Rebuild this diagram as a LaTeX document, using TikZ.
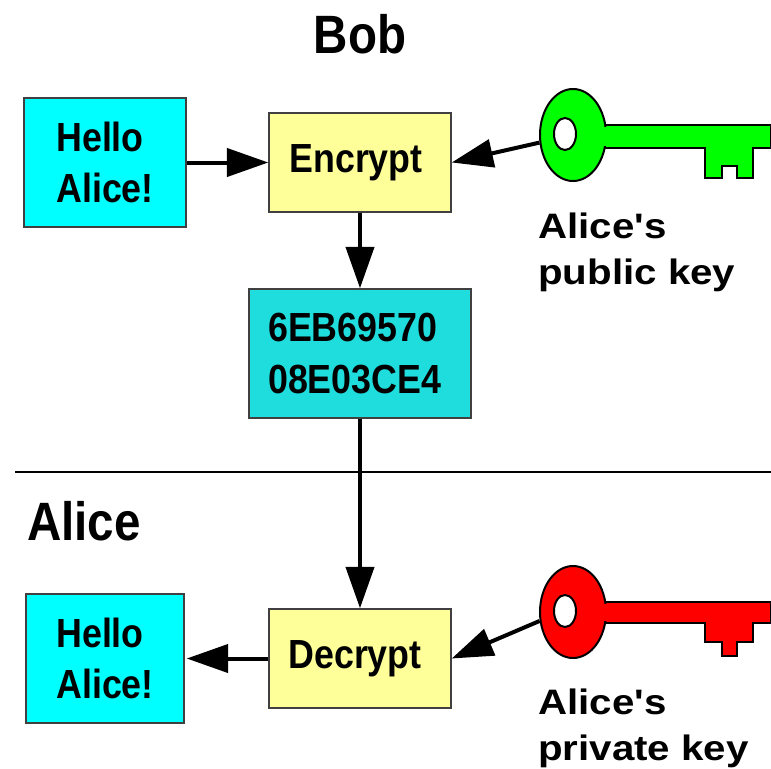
\documentclass[tikz,border=0pt]{standalone}
\usepackage{fontspec}
\setmainfont{Liberation Sans}
\newfontfamily\narrowfont[FakeStretch=0.88]{Liberation Sans}
\newfontfamily\wideletters[FakeStretch=1.14]{Liberation Sans}
\usetikzlibrary{arrows.meta}
\usetikzlibrary{shapes.geometric}

\definecolor{msgcyan}{HTML}{00FFFF}
\definecolor{boxyellow}{HTML}{FFFF99}
\definecolor{ciphercyan}{HTML}{20DDDD}

\tikzset{
  boxnode/.style={draw=black!75,line width=1.1pt,rectangle,inner sep=0pt,
    align=left,text=black,font=\narrowfont\bfseries\fontsize{30.5}{38.5}\selectfont},
  heading/.style={inner sep=0pt,font=\narrowfont\bfseries\fontsize{40.5}{46}\selectfont},
  keylabel/.style={inner sep=0pt,align=left,anchor=north west,
    font=\wideletters\bfseries\fontsize{26.5}{34.5}\selectfont},
  keybow/.style={draw=black,line width=1.5pt,ellipse,minimum width=66*0.75pt,
    minimum height=92*0.75pt,inner sep=0pt},
  keyhole/.style={keybow,fill=white,minimum width=22*0.75pt,minimum height=32*0.75pt},
  keyline/.style={draw=black,line width=1.5pt,line join=miter},
  link/.style={line width=3pt,-{Triangle[length=31pt,width=21pt]}}
}

\begin{document}
\begin{tikzpicture}[x=0.75pt,y=-0.75pt]
\useasboundingbox (0,0) rectangle (771,768);

% boxes
\node[boxnode,fill=msgcyan,minimum width=162*0.75pt,minimum height=129*0.75pt] (hellotop) at (105,162.5) {Hello\\Alice!};
\node[boxnode,fill=boxyellow,minimum width=182*0.75pt,minimum height=99*0.75pt] (encrypt) at (360,162.5) {Encrypt\kern 6pt};
\node[boxnode,fill=ciphercyan,minimum width=222*0.75pt,minimum height=129*0.75pt] (cipher) at (360,353.5) {6EB69570\\08E03CE4\kern 8pt};
\node[boxnode,fill=boxyellow,minimum width=182*0.75pt,minimum height=99*0.75pt] (decrypt) at (360,658.5) {Decrypt\kern 7.5pt};
\node[boxnode,fill=msgcyan,minimum width=158*0.75pt,minimum height=129*0.75pt] (hellobot) at (105,658.5) {Hello\\Alice!};

% green key
\fill[keyline,fill=green] (600,125) -- (771,125) -- (771,148) -- (753,148) -- (753,178) -- (737,178)
  -- (737,166) -- (722,166) -- (722,178) -- (705,178) -- (705,148) -- (600,148) -- cycle;
\node[keybow,fill=green] (pubkey) at (573,135) {};
\fill[green] (590,127) rectangle (612,146);
\node[keyhole] (pubhole) at (565,134) {};

% red key
\fill[keyline,fill=red] (600,602) -- (771,602) -- (771,623) -- (753,623) -- (753,642) -- (737,642)
  -- (737,656) -- (722,656) -- (722,642) -- (705,642) -- (705,623) -- (600,623) -- cycle;
\node[keybow,fill=red] (privkey) at (573,612) {};
\fill[red] (590,604) rectangle (612,621);
\node[keyhole] (privhole) at (565,611) {};

% arrows
\draw[link] (hellotop.east) -- (encrypt.west);
\draw[link] (pubkey) -- (encrypt.east);
\draw[link] (encrypt.south) -- (cipher.north);
\draw[link] (cipher.south) -- (decrypt.north);
\draw[link,shorten >=2*0.75pt] (decrypt.west) -- (hellobot.east);
\draw[link] (privkey.195) -- (decrypt.east);

% divider
\coordinate (lineleft) at (15,472);
\coordinate (lineright) at (771,472);
\draw[line width=1.5pt] (lineleft) -- (lineright);

% labels
\node[heading] (bob) at (360,34) {Bob};
\node[heading] (alice) at (84,521) {Alice};
\node[keylabel] (publabel) at (538,213) {Alice's\\public key};
\node[keylabel] (privlabel) at (538,689) {Alice's\\private key};
\end{tikzpicture}
\end{document}
